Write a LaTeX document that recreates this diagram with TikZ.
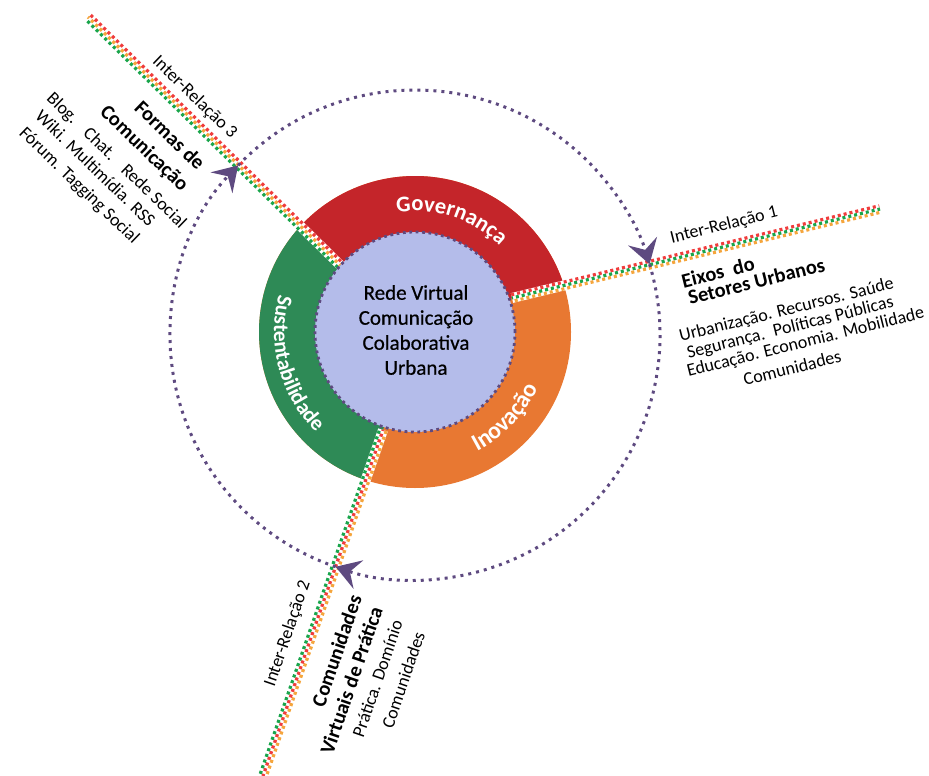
\documentclass[tikz,border=0pt]{standalone}
\usepackage{fontspec}
\setmainfont{Carlito}
\newfontface\corefont{Carlito}[FakeBold=0.6]
\usetikzlibrary{calc,arrows.meta,decorations.text}
\definecolor{gov}{RGB}{196,37,42}
\definecolor{inov}{RGB}{232,120,50}
\definecolor{sust}{RGB}{46,138,86}
\definecolor{core}{RGB}{180,188,234}
\definecolor{purp}{RGB}{94,74,128}
\definecolor{dred}{RGB}{240,60,60}
\definecolor{dora}{RGB}{245,165,60}
\definecolor{dgrn}{RGB}{25,165,75}
\newcommand\bodyf{\fontsize{18}{22}\selectfont}
\newcommand\ttlf{\fontsize{20.5}{24}\selectfont\bfseries}
\newcommand\ringf{\fontsize{22.5}{22.5}\selectfont\bfseries\color{white}}
\begin{document}
\begin{tikzpicture}[x=1pt,y=1pt,
  dl/.style={line width=3.2pt, dash pattern=on 3pt off 3pt},
  band/.style={white, line width=10pt},
  bigdot/.style={purp, line width=3pt, dash pattern=on 3pt off 5pt,
     -{Stealth[length=24pt,width=30pt,inset=9pt]}},
  lbl/.style={inner sep=0pt, anchor=base west},
  ringtxt/.style={decorate, decoration={text along path, text align=center, text={#1}}}]
\useasboundingbox (0,0) rectangle (929,-776);
\coordinate (C) at (415,-332);
\coordinate (CB) at (415,-335);
\coordinate (l1a) at (512,-298); \coordinate (l1b) at (880,-209);
\coordinate (l2a) at (383,-430); \coordinate (l2b) at (263,-776);
\coordinate (l3a) at (340,-265); \coordinate (l3b) at (88,-17);
% ring
\fill[inov] (C) circle[radius=156];
\begin{scope}
  \clip (C) circle[radius=156];
  \fill[gov] (C) -- (l1a) -- ($(l1a)!200pt!(l1b)$) -- (700,0) -- (100,0)
     -- ($(l3a)!200pt!(l3b)$) -- (l3a) -- cycle;
  \fill[sust] (C) -- (l3a) -- ($(l3a)!200pt!(l3b)$) -- (0,-125) -- (0,-776)
     -- ($(l2a)!200pt!(l2b)$) -- (l2a) -- cycle;
\end{scope}
% separators
\draw[band] (l1a) -- (l1b);
\draw[band] (l2a) -- (l2b);
\draw[band] (l3a) -- (l3b);
% line 1
\draw[dl, dred] ($(l1a)!3.3pt!90:(l1b)$) -- ($(l1b)!3.3pt!-90:(l1a)$);
\draw[dl, dgrn, dash phase=2pt] (l1a) -- (l1b);
\draw[dl, dora, dash phase=4pt] ($(l1a)!3.3pt!-90:(l1b)$) -- ($(l1b)!3.3pt!90:(l1a)$);
% line 2
\draw[dl, dora] ($(l2a)!3.3pt!90:(l2b)$) -- ($(l2b)!3.3pt!-90:(l2a)$);
\draw[dl, dred, dash phase=2pt] (l2a) -- (l2b);
\draw[dl, dgrn, dash phase=4pt] ($(l2a)!3.3pt!-90:(l2b)$) -- ($(l2b)!3.3pt!90:(l2a)$);
% line 3
\draw[dl, dgrn] ($(l3a)!3.3pt!90:(l3b)$) -- ($(l3b)!3.3pt!-90:(l3a)$);
\draw[dl, dora, dash phase=2pt] (l3a) -- (l3b);
\draw[dl, dred, dash phase=4pt] ($(l3a)!3.3pt!-90:(l3b)$) -- ($(l3b)!3.3pt!90:(l3a)$);
% core
\draw[fill=core, draw=purp, line width=2.8pt, dash pattern=on 2.8pt off 3.6pt] (C) circle[radius=100];
\node[inner sep=0pt, align=center, font=\corefont\fontsize{21}{25}\selectfont] (core) at (416,-330)
  {Rede Virtual\\Comunicação\\Colaborativa\\Urbana};
% ring labels
\path[ringtxt={|\ringf|Governança}] ($(C)+(118:121)$) arc[start angle=118, end angle=26, radius=121];
\path[ringtxt={|\fontsize{21.5}{21.5}\selectfont\bfseries\color{white}|Sustentabilidade}] ($(C)+(150:141)$) arc[start angle=150, end angle=240, radius=141];
\path[ringtxt={|\fontsize{24}{24}\selectfont\bfseries\color{white}|Inovação}] ($(C)+(-85:135)$) arc[start angle=-85, end angle=-2, radius=135];
% big dotted circle with arrows
\draw[bigdot] ($(CB)+(136.2:245)$) arc[start angle=136.2, end angle=16.8, radius=245];
\draw[bigdot] ($(CB)+(16.8:245)$) arc[start angle=16.8, end angle=-108.9, radius=245];
\draw[bigdot] ($(CB)+(-108.9:245)$) arc[start angle=-108.9, end angle=-223.8, radius=245];
% right block
\node[lbl, rotate=14, font=\bodyf] (ir1) at (671.7,-243.3) {Inter-Relação 1};
\node[lbl, rotate=14, font=\ttlf] (eixos) at (683.3,-288.3) {Eixos\hspace{0.45em}do};
\node[lbl, rotate=14, font=\ttlf] (setores) at (690,-305) {Setores Urbanos};
\node[lbl, rotate=14, font=\bodyf] (urb) at (680.7,-341.7) {Urbanização. Recursos. Saúde};
\node[lbl, rotate=14, font=\bodyf] (seg) at (688.3,-358.3) {Segurança.\hspace{0.5em}Políticas Públicas};
\node[lbl, rotate=14, font=\bodyf] (edu) at (688.3,-376.7) {Educação. Economia. Mobilidade};
\node[lbl, rotate=14, font=\bodyf] (comr) at (745,-386) {Comunidades};
% top-left block
\node[lbl, rotate=-44, font=\bodyf] (ir3) at (151.7,-62.7) {Inter-Relação 3};
\node[lbl, rotate=-44, font=\ttlf] (formas) at (133.3,-109.3) {Formas de};
\node[lbl, rotate=-44, font=\ttlf] (comunic) at (99,-113.3) {Comunicação};
\node[lbl, rotate=-44, font=\bodyf] (blog) at (45.7,-99.3) {Blog.\hspace{0.8em}Chat.\hspace{0.8em}Rede Social};
\node[lbl, rotate=-44, font=\bodyf] (wiki) at (34.3,-117.7) {Wiki. Multimídia. RSS};
\node[lbl, rotate=-44, font=\bodyf] (forum) at (18.3,-134) {Fórum. Tagging Social};
% bottom block
\node[lbl, rotate=71, font=\bodyf] (ir2) at (274.3,-687.3) {Inter-Relação 2};
\node[lbl, rotate=71, font=\ttlf] (comv) at (324.3,-708.3) {Comunidades};
\node[lbl, rotate=71, font=\ttlf] (virt) at (332.7,-756) {Virtuais de Prática};
\node[lbl, rotate=71, font=\bodyf] (prat) at (363.3,-738.3) {Prática. Domínio};
\node[lbl, rotate=71, font=\bodyf] (comb) at (392.7,-729.3) {Comunidades};
\end{tikzpicture}
\end{document}
